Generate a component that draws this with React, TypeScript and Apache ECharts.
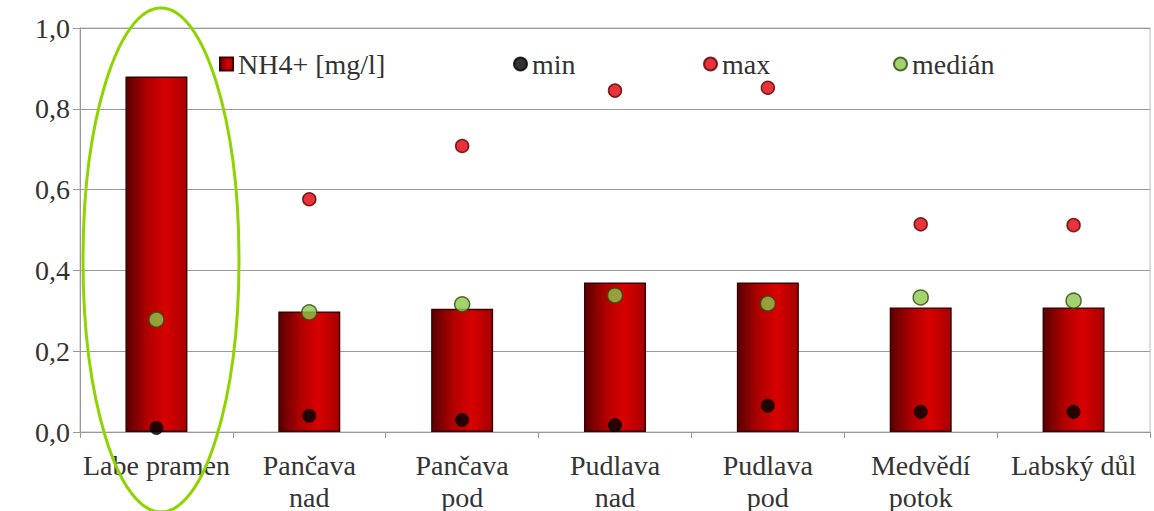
import React, { useEffect, useRef } from "react";
import * as echarts from "echarts";

const categories = [
  "Labe pramen",
  "Pančava\nnad",
  "Pančava\npod",
  "Pudlava\nnad",
  "Pudlava\npod",
  "Medvědí\npotok",
  "Labský důl",
];
const nh4Values = [0.88, 0.298, 0.305, 0.37, 0.37, 0.308, 0.308];
const minValues = [0.01, 0.04, 0.03, 0.017, 0.065, 0.05, 0.05];
const maxValues: (number | string)[] = ["-", 0.576, 0.708, 0.845, 0.852, 0.514, 0.512];
const medianValues = [0.278, 0.296, 0.316, 0.338, 0.318, 0.333, 0.325];
const yTicks = [0, 0.2, 0.4, 0.6, 0.8, 1.0];

const FONT = "Liberation Serif";

export default function App() {
  const ref = useRef<HTMLDivElement>(null);

  useEffect(() => {
    if (!ref.current) return;
    const chart = echarts.init(ref.current, null, { renderer: "svg" });

    const barGradient = new echarts.graphic.LinearGradient(0, 0, 1, 0, [
      { offset: 0, color: "#5a0000" },
      { offset: 0.35, color: "#b00000" },
      { offset: 0.65, color: "#d80000" },
      { offset: 1, color: "#a80000" },
    ]);

    const legendText = { fontFamily: FONT, fontSize: 28, color: "#333" };
    const mkLegend = (name: string, left: number, icon: string) => ({
      data: [{ name, icon }],
      left,
      top: 50,
      padding: 0,
      itemWidth: 13,
      itemHeight: 13,
      itemGap: 4,
      textStyle: legendText,
      selectedMode: false,
    });

    chart.setOption({
      animation: false,
      backgroundColor: "#fff",
      textStyle: { fontFamily: FONT },
      legend: [
        mkLegend("NH4+ [mg/l]", 219, "rect"),
        mkLegend("min", 513, "circle"),
        mkLegend("max", 703, "circle"),
        mkLegend("medián", 893, "circle"),
      ],
      grid: {
        left: 80,
        right: 4,
        top: 28,
        bottom: 79,
        outerBoundsMode: "none",
        containLabel: false,
        show: true,
        borderColor: "#bbb",
        borderWidth: 1,
      },
      xAxis: {
        type: "category",
        data: categories,
        axisLine: { lineStyle: { color: "#999" } },
        axisTick: { show: true, length: 6, lineStyle: { color: "#999" } },
        axisLabel: {
          fontFamily: FONT,
          fontSize: 28,
          color: "#333",
          margin: 17,
          lineHeight: 32,
          interval: 0,
        },
      },
      yAxis: {
        type: "value",
        min: 0,
        max: 1,
        interval: 0.2,
        axisLine: { show: true, lineStyle: { color: "#999" } },
        axisTick: { show: true, length: 7, lineStyle: { color: "#999" } },
        splitLine: { lineStyle: { color: "#9a9a9a", width: 1 } },
        axisLabel: {
          fontFamily: FONT,
          fontSize: 28,
          color: "#333",
          margin: 10,
          formatter: (v: number) => {
            const t = yTicks.find((x) => Math.abs(x - v) < 1e-6);
            return (t ?? v).toFixed(1).replace(".", ",");
          },
        },
      },
      series: [
        {
          name: "NH4+ [mg/l]",
          type: "bar",
          data: nh4Values,
          barWidth: 62,
          itemStyle: { color: barGradient, borderColor: "#3a0000", borderWidth: 1.5 },
          z: 2,
        },
        {
          name: "min",
          type: "scatter",
          data: minValues,
          symbolSize: 13,
          itemStyle: { color: "#000", borderColor: "#000", borderWidth: 1 },
          z: 5,
        },
        {
          name: "max",
          type: "scatter",
          data: maxValues,
          symbolSize: 13,
          itemStyle: { color: "#e3000a", borderColor: "#5a0000", borderWidth: 1.5 },
          z: 5,
        },
        {
          name: "medián",
          type: "scatter",
          data: medianValues,
          symbolSize: 15,
          itemStyle: { color: "#8cc84a", borderColor: "#2f4a10", borderWidth: 1.5 },
          z: 5,
        },
      ],
      graphic: [
        {
          type: "ellipse",
          shape: { cx: 161, cy: 260, rx: 78, ry: 252 },
          style: { fill: "none", stroke: "#8fd400", lineWidth: 3 },
          z: 100,
        },
      ],
    });

    return () => chart.dispose();
  }, []);

  return <div ref={ref} style={{ width: 1154, height: 511, position: "absolute", left: 0, top: 0 }} />;
}
